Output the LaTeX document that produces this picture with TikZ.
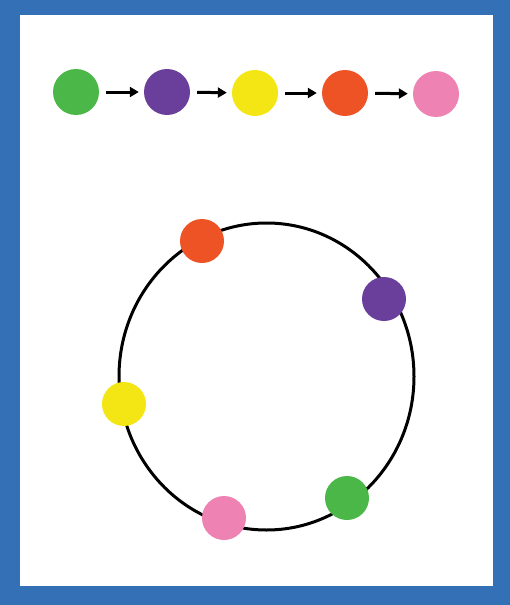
\documentclass[tikz,border=0pt]{standalone}
\usetikzlibrary{arrows.meta}
\definecolor{cgreen}{HTML}{4BB748}
\definecolor{cpurple}{HTML}{6A3F9B}
\definecolor{cyellow}{HTML}{F3E614}
\definecolor{corange}{HTML}{EE5325}
\definecolor{cpink}{HTML}{EE82B3}
\definecolor{cblue}{HTML}{3370B6}
\tikzset{
  dot/.style={circle, inner sep=0pt, minimum size=46pt, fill=#1, draw=none},
  sdot/.style={circle, inner sep=0pt, minimum size=44pt, fill=#1, draw=none},
  flow/.style={line width=3pt, -{Triangle[length=9pt,width=10pt]}, shorten <=7pt, shorten >=5pt}
}
\begin{document}
\begin{tikzpicture}[x=1pt,y=-1pt]
\useasboundingbox (0,0) rectangle (510,605);
\fill[cblue] (0,0) rectangle (510,605);
\fill[white] (20,15) rectangle (493,586);
% top row
\node[dot=cgreen]  (a) at (76,92) {};
\node[dot=cpurple] (b) at (167,92) {};
\node[dot=cyellow] (c) at (255,93) {};
\node[dot=corange] (d) at (345,93) {};
\node[dot=cpink]   (e) at (436,94) {};
\draw[flow] (a) -- (b);
\draw[flow] (b) -- (c);
\draw[flow] (c) -- (d);
\draw[flow] (d) -- (e);
% ring
\draw[line width=3pt] (266.5,376.5) ellipse [x radius=147.5, y radius=153.5];
\node[sdot=corange] (ro) at (202,241) {};
\node[sdot=cpurple] (rp) at (384,299) {};
\node[sdot=cyellow] (ry) at (124,404) {};
\node[sdot=cpink]   (rk) at (224,518) {};
\node[sdot=cgreen]  (rg) at (347,498) {};
\end{tikzpicture}
\end{document}
